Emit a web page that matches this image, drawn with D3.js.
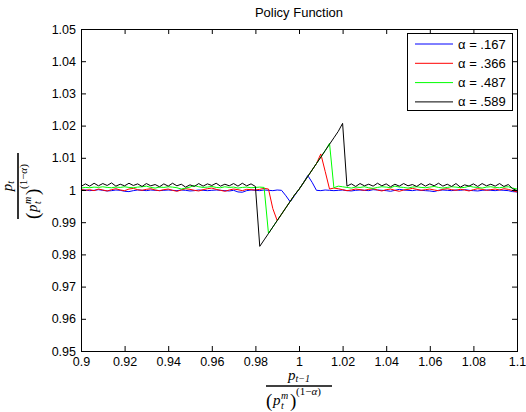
<!DOCTYPE html>
<html>
<head>
<meta charset="utf-8">
<script src="https://cdn.jsdelivr.net/npm/d3@7"></script>
<style>
  body { margin: 0; background: #fff; }
  svg { display: block; font-family: "Liberation Sans", Arial, sans-serif; }
  .math { font-family: "Liberation Serif", "DejaVu Serif", serif; }
</style>
</head>
<body>
<svg id="chart" width="526" height="412"></svg>
<script>
// grid of lagged prices
const xGrid = [
  0.900,0.902,0.904,0.906,0.908,0.910,0.912,0.914,0.916,0.918,
  0.920,0.922,0.924,0.926,0.928,0.930,0.932,0.934,0.936,0.938,
  0.940,0.942,0.944,0.946,0.948,0.950,0.952,0.954,0.956,0.958,
  0.960,0.962,0.964,0.966,0.968,0.970,0.972,0.974,0.976,0.978,
  0.980,0.982,0.984,0.986,0.988,0.990,0.992,0.994,0.996,0.998,
  1.000,1.002,1.004,1.006,1.008,1.010,1.012,1.014,1.016,1.018,
  1.020,1.022,1.024,1.026,1.028,1.030,1.032,1.034,1.036,1.038,
  1.040,1.042,1.044,1.046,1.048,1.050,1.052,1.054,1.056,1.058,
  1.060,1.062,1.064,1.066,1.068,1.070,1.072,1.074,1.076,1.078,
  1.080,1.082,1.084,1.086,1.088,1.090,1.092,1.094,1.096,1.098,
  1.100
];

// alpha = .167
const blueVals = [
  0.9999,1.0000,0.9998,0.9999,1.0001,0.9999,0.9997,0.9998,1.0000,0.9999,
  0.9996,0.9995,0.9998,1.0000,0.9999,0.9998,1.0000,0.9999,0.9998,0.9999,
  1.0000,0.9999,0.9998,1.0000,0.9999,0.9997,0.9998,1.0000,0.9999,0.9998,
  0.9999,1.0000,0.9999,0.9998,0.9997,0.9999,0.9994,0.9993,0.9998,1.0000,
  0.9999,0.9998,1.0000,0.9999,0.9998,1.0000,0.9999,
  0.9982,
  0.9963,0.9983,1.0002,1.0022,1.0045,
  1.0024,
  0.9999,0.9998,1.0000,0.9999,0.9998,0.9999,1.0000,0.9998,0.9997,0.9999,
  1.0000,0.9999,0.9998,1.0001,1.0000,0.9999,0.9998,0.9996,0.9999,1.0002,
  1.0000,0.9999,0.9998,1.0000,0.9999,0.9998,0.9997,0.9995,0.9999,1.0000,
  0.9999,0.9998,1.0000,0.9999,1.0001,0.9999,0.9998,0.9997,0.9999,1.0000,
  0.9999,0.9998,1.0000,0.9999,0.9998,0.9995,0.9994
];

// alpha = .366
const redVals = [
  1.0002,0.9999,1.0001,0.9998,1.0003,1.0000,0.9997,1.0001,1.0004,1.0000,
  0.9998,1.0003,1.0005,1.0001,0.9999,1.0002,1.0004,1.0000,0.9998,1.0001,
  1.0003,0.9999,0.9996,1.0000,1.0004,1.0002,0.9999,0.9997,1.0001,1.0004,
  1.0006,1.0002,0.9999,0.9996,1.0000,1.0003,1.0001,0.9998,1.0002,1.0001,
  1.0000,1.0002,1.0005,1.0003,
  0.9942,
  0.9905,0.9925,0.9945,0.9965,0.9985,1.0002,1.0022,1.0042,1.0062,1.0082,1.0112,
  1.0058,
  1.0003,1.0006,1.0004,1.0001,0.9998,1.0000,1.0003,1.0001,0.9999,1.0002,
  1.0004,1.0000,0.9997,1.0001,1.0003,0.9999,0.9996,1.0000,1.0002,1.0005,
  1.0002,0.9999,1.0001,1.0003,1.0000,0.9998,1.0002,1.0004,1.0001,0.9999,
  1.0002,1.0000,0.9997,1.0001,1.0004,1.0002,0.9999,1.0001,1.0003,1.0000,
  1.0004,1.0002,0.9998,0.9994
];

// alpha = .487
const greenVals = [
  1.0006,1.0008,1.0007,1.0009,1.0008,1.0010,1.0008,1.0007,1.0009,1.0008,
  1.0010,1.0008,1.0007,1.0009,1.0010,1.0012,1.0008,1.0006,1.0009,1.0008,
  1.0010,1.0009,1.0007,1.0003,1.0006,1.0009,1.0014,1.0010,1.0008,1.0009,
  1.0011,1.0008,1.0007,1.0010,1.0008,1.0009,1.0006,1.0008,1.0009,1.0007,
  1.0008,1.0009,1.0008,
  0.9865,0.9885,0.9905,0.9925,0.9945,0.9965,0.9985,1.0002,1.0022,1.0042,
  1.0062,1.0082,1.0102,1.0122,1.0145,
  1.0007,1.0012,1.0010,1.0008,1.0006,1.0009,1.0008,1.0010,1.0007,1.0005,
  1.0008,1.0010,1.0009,1.0007,1.0012,1.0009,1.0008,1.0006,1.0009,1.0010,
  1.0008,1.0007,1.0009,1.0011,1.0008,1.0006,1.0008,1.0010,1.0009,1.0007,
  1.0008,1.0012,1.0009,1.0008,1.0006,1.0009,1.0010,1.0008,1.0007,1.0009,
  1.0010,1.0006,1.0003
];

// alpha = .589
const blackVals = [
  1.0011,1.0019,1.0012,1.0021,1.0013,1.0020,1.0014,1.0022,1.0012,1.0018,
  1.0013,1.0021,1.0014,1.0019,1.0011,1.0020,1.0013,1.0017,1.0010,1.0019,
  1.0012,1.0021,1.0013,1.0018,1.0009,1.0016,1.0011,1.0020,1.0012,1.0019,
  1.0014,1.0021,1.0012,1.0018,1.0013,1.0020,1.0012,1.0021,1.0013,1.0019,
  1.0011,
  0.9825,0.9845,0.9865,0.9885,0.9905,0.9925,0.9945,0.9965,0.9985,1.0002,
  1.0022,1.0042,1.0062,1.0082,1.0102,1.0122,1.0142,1.0162,1.0182,1.0207,
  1.0012,1.0019,1.0011,1.0020,1.0013,1.0018,1.0012,1.0021,1.0013,1.0019,
  1.0010,1.0018,1.0012,1.0020,1.0013,1.0017,1.0011,1.0020,1.0012,1.0019,
  1.0013,1.0021,1.0012,1.0018,1.0011,1.0020,1.0009,1.0016,1.0012,1.0019,
  1.0011,1.0020,1.0013,1.0018,1.0012,1.0020,1.0011,1.0017,1.0004,0.9998
];

const seriesNames = ["α = .167", "α = .366", "α = .487", "α = .589"];
const seriesColors = ["#0000ff", "#ff0000", "#00ff00", "#000000"];
const seriesVals = [blueVals, redVals, greenVals, blackVals];

const xTicks = [0.9,0.92,0.94,0.96,0.98,1,1.02,1.04,1.06,1.08,1.1];
const xTickLabels = ["0.9","0.92","0.94","0.96","0.98","1","1.02","1.04","1.06","1.08","1.1"];
const yTicks = [0.95,0.96,0.97,0.98,0.99,1,1.01,1.02,1.03,1.04,1.05];
const yTickLabels = ["0.95","0.96","0.97","0.98","0.99","1","1.01","1.02","1.03","1.04","1.05"];

// plot box
const margin = { top: 29, right: 9, bottom: 61, left: 81 },
    W = 526, H = 412,
    width = W - margin.left - margin.right,
    height = H - margin.top - margin.bottom;

const svg = d3.select("#chart");
const g = svg.append("g")
    .attr("transform", `translate(${margin.left},${margin.top})`);

const x = d3.scaleLinear().domain([0.9, 1.1]).range([0, width]);
const y = d3.scaleLinear().domain([0.95, 1.05]).range([height, 0]);

// lines
const line = d3.line()
    .x((d, i) => x(xGrid[i]))
    .y(d => y(d));

seriesVals.forEach((vals, k) => {
  g.append("path")
      .datum(vals)
      .attr("fill", "none")
      .attr("stroke", seriesColors[k])
      .attr("stroke-width", 1)
      .attr("d", line);
});

// axes, ticks pointing inward
function styleAxis(sel) {
  sel.select(".domain").remove();
  sel.selectAll("line").attr("stroke", "#000");
  sel.selectAll("text").attr("fill", "#000")
      .style("font-family", '"Liberation Sans", Arial, sans-serif')
      .style("font-size", "12.5px");
}

g.append("g")
    .attr("transform", `translate(0,${height})`)
    .call(d3.axisBottom(x).tickValues(xTicks).tickSizeInner(-5).tickSizeOuter(0)
      .tickPadding(6).tickFormat((d, i) => xTickLabels[i]))
    .call(styleAxis);

g.append("g")
    .call(d3.axisTop(x).tickValues(xTicks).tickSizeInner(-5).tickSizeOuter(0).tickFormat(""))
    .call(styleAxis);

g.append("g")
    .call(d3.axisLeft(y).tickValues(yTicks).tickSizeInner(-5).tickSizeOuter(0)
      .tickPadding(5).tickFormat((d, i) => yTickLabels[i]))
    .call(styleAxis);

g.append("g")
    .attr("transform", `translate(${width},0)`)
    .call(d3.axisRight(y).tickValues(yTicks).tickSizeInner(-5).tickSizeOuter(0).tickFormat(""))
    .call(styleAxis);

g.append("rect")
    .attr("x", 0.5).attr("y", 0.5)
    .attr("width", width).attr("height", height)
    .attr("fill", "none").attr("stroke", "#000")
    .attr("shape-rendering", "crispEdges");

// title
svg.append("text")
    .attr("x", margin.left + width / 2).attr("y", 17)
    .attr("text-anchor", "middle")
    .style("font-size", "13px")
    .text("Policy Function");

// legend
const legend = g.append("g").attr("transform", "translate(326,4)");
legend.append("rect")
    .attr("x", 0.5).attr("y", 0.5)
    .attr("width", 105).attr("height", 77)
    .attr("fill", "#fff").attr("stroke", "#000")
    .attr("shape-rendering", "crispEdges");
seriesNames.forEach((name, k) => {
  const yy = 11 + k * 19.3;
  legend.append("line")
      .attr("x1", 8).attr("x2", 46)
      .attr("y1", yy).attr("y2", yy)
      .attr("stroke", seriesColors[k]);
  legend.append("text")
      .attr("x", 51).attr("y", yy + 4.5)
      .style("font-size", "13px")
      .text(name);
});

// math labels as stacked fractions
function fraction(parent, numBase, numSub) {
  const f = parent.append("g").attr("class", "math");
  f.append("line").attr("x1", -33).attr("x2", 33).attr("y1", 0).attr("y2", 0)
      .attr("stroke", "#000").attr("stroke-width", 1.6);
  const num = f.append("text").attr("y", -6).attr("text-anchor", "middle");
  num.append("tspan").attr("font-style", "italic").style("font-size", "15px").text(numBase);
  num.append("tspan").attr("font-style", "italic").attr("dy", 2).style("font-size", "10px").text(numSub);
  f.append("text").attr("x", -33).attr("y", 21).style("font-size", "19px").text("(");
  f.append("text").attr("x", -26).attr("y", 19).attr("font-style", "italic").style("font-size", "15px").text("p");
  f.append("text").attr("x", -18).attr("y", 13).attr("font-style", "italic").style("font-size", "10px").text("m");
  f.append("text").attr("x", -18).attr("y", 23).attr("font-style", "italic").style("font-size", "10px").text("t");
  f.append("text").attr("x", -9).attr("y", 21).style("font-size", "19px").text(")");
  const sup = f.append("text").attr("x", -3).attr("y", 9).style("font-size", "11px");
  sup.append("tspan").text("(1−");
  sup.append("tspan").attr("font-style", "italic").text("α");
  sup.append("tspan").text(")");
  return f;
}

fraction(svg, "p", "t−1").attr("transform", "translate(299,386)");
fraction(svg, "p", "t").attr("transform", "translate(18,186) rotate(-90)");
</script>
</body>
</html>
